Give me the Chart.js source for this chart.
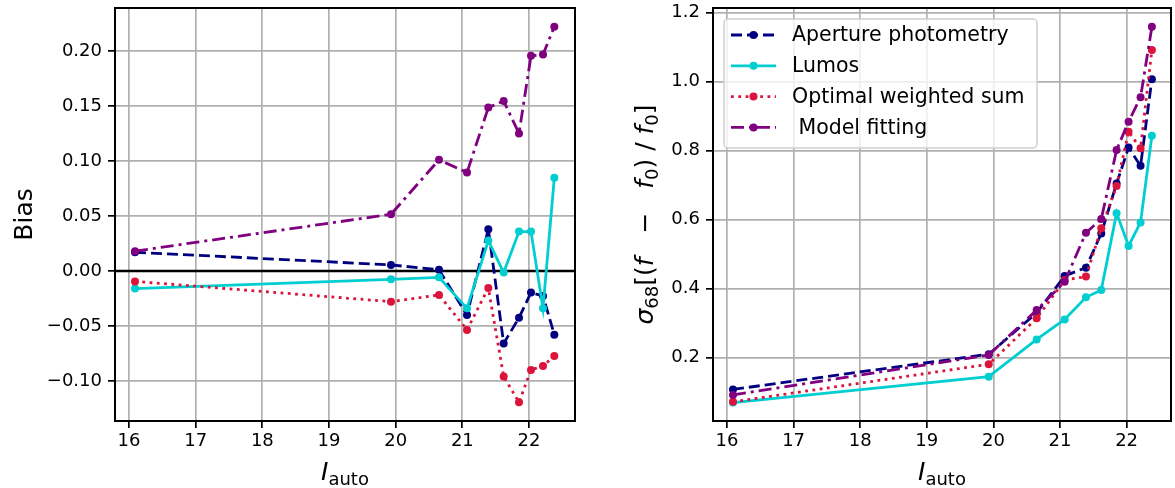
<!DOCTYPE html>
<html>
<head>
<meta charset="utf-8">
<script src="https://cdn.jsdelivr.net/npm/chart.js@4"></script>
<style>
    body { margin: 0; background: #fff; }
    .panel { position: absolute; top: 0; height: 488px; }
    #leftBox { left: 0; width: 590px; }
    #rightBox { left: 600px; width: 575px; }
</style>
</head>
<body>
<div class="panel" id="leftBox"><canvas id="biasChart"></canvas></div>
<div class="panel" id="rightBox"><canvas id="scatterChart"></canvas></div>
<script>
// magnitude bins (I_auto)
var magnitudes = [16.09, 19.93, 20.65, 21.07, 21.39, 21.62, 21.85, 22.03, 22.21, 22.38];

// left panel: bias
var biasAperture = [0.017, 0.0055, 0.001, -0.040, 0.038, -0.066, -0.0425, -0.0197, -0.0227, -0.058];
var biasLumos = [-0.016, -0.0076, -0.0058, -0.034, 0.0276, -0.0015, 0.0358, 0.0358, -0.034, 0.0848];
var biasOptimal = [-0.0095, -0.0279, -0.0218, -0.0536, -0.0155, -0.096, -0.1194, -0.090, -0.0864, -0.0773];
var biasModel = [0.018, 0.0515, 0.101, 0.0894, 0.1485, 0.1545, 0.125, 0.1955, 0.1967, 0.222];

// right panel: sigma_68 scatter
var sigAperture = [0.108, 0.21, 0.33, 0.437, 0.461, 0.56, 0.705, 0.809, 0.756, 1.007];
var sigLumos = [0.07, 0.145, 0.253, 0.311, 0.375, 0.396, 0.619, 0.524, 0.592, 0.843];
var sigOptimal = [0.072, 0.181, 0.314, 0.425, 0.435, 0.575, 0.698, 0.855, 0.807, 1.092];
var sigModel = [0.092, 0.208, 0.338, 0.42, 0.562, 0.602, 0.802, 0.884, 0.955, 1.159];

var seriesNames = ["Aperture photometry", "Lumos", "Optimal weighted sum", " Model fitting"];

// tick labels
var xTicks = [16, 17, 18, 19, 20, 21, 22];
var biasTicks = [-0.10, -0.05, 0.00, 0.05, 0.10, 0.15, 0.20];
var sigTicks = [0.2, 0.4, 0.6, 0.8, 1.0, 1.2];

document.addEventListener("DOMContentLoaded", function () {
    var FONT = "'DejaVu Sans', sans-serif";
    var colors = ["#000080", "#00ced1", "#dc143c", "#800080"];
    var dashes = [[11, 5], [], [2.8, 4.5], [13, 5, 3, 5]];

    function makeDatasets(values) {
        return values.map(function (vals, i) {
            return {
                label: seriesNames[i],
                data: magnitudes.map(function (m, j) { return { x: m, y: vals[j] }; }),
                borderColor: colors[i],
                backgroundColor: colors[i],
                borderWidth: 2.8,
                borderDash: dashes[i],
                pointRadius: 4,
                pointBorderWidth: 0,
                pointBackgroundColor: colors[i],
                tension: 0,
                order: 3 - i,
            };
        });
    }

    function minusSign(s) {
        return s.replace("-", "\u2212");
    }

    // draw mixed text (italic / subscripts) along a line, centered at (cx, cy)
    function drawMath(ctx, parts, cx, cy, angle) {
        ctx.save();
        ctx.translate(cx, cy);
        ctx.rotate(angle);
        var total = 0;
        parts.forEach(function (p) {
            ctx.font = p.font;
            p.w = ctx.measureText(p.t).width;
            total += p.w;
        });
        var x = -total / 2;
        ctx.fillStyle = "#000";
        ctx.textBaseline = "alphabetic";
        ctx.textAlign = "left";
        parts.forEach(function (p) {
            ctx.font = p.font;
            ctx.fillText(p.t, x, p.dy || 0);
            x += p.w;
        });
        ctx.restore();
    }

    var big = "25px " + FONT;
    var bigIt = "italic 25px " + FONT;
    var small = "18px " + FONT;

    var xLabel = [
        { t: "I", font: bigIt },
        { t: "auto", font: small, dy: 5 },
    ];

    function framePlugin(opts) {
        return {
            id: "frame",
            beforeDatasetsDraw: function (chart) {
                if (!opts.zeroLine) return;
                var ctx = chart.ctx;
                var a = chart.chartArea;
                var y0 = chart.scales.y.getPixelForValue(0);
                ctx.save();
                ctx.strokeStyle = "#000";
                ctx.lineWidth = 2.6;
                ctx.beginPath();
                ctx.moveTo(a.left, y0);
                ctx.lineTo(a.right, y0);
                ctx.stroke();
                ctx.restore();
            },
            afterDatasetsDraw: function (chart) {
                var ctx = chart.ctx;
                var a = chart.chartArea;
                ctx.save();
                ctx.strokeStyle = "#000";
                ctx.lineWidth = 2;
                ctx.strokeRect(a.left, a.top, a.right - a.left, a.bottom - a.top);
                ctx.restore();
            },
            afterDraw: function (chart) {
                var ctx = chart.ctx;
                var a = chart.chartArea;
                drawMath(ctx, xLabel, (a.left + a.right) / 2, 480, 0);
                drawMath(ctx, opts.yLabel, opts.yLabelX, (a.top + a.bottom) / 2, -Math.PI / 2);
                if (opts.legend) drawLegend(chart);
            },
        };
    }

    function drawLegend(chart) {
        var ctx = chart.ctx;
        var bx = 124, by = 19, bw = 313, bh = 129;
        ctx.save();
        ctx.fillStyle = "rgba(255,255,255,0.8)";
        ctx.strokeStyle = "#d0d0d0";
        ctx.lineWidth = 1.5;
        ctx.beginPath();
        ctx.roundRect(bx, by, bw, bh, 4);
        ctx.fill();
        ctx.stroke();
        ctx.font = "20.5px " + FONT;
        ctx.textBaseline = "middle";
        ctx.fillStyle = "#000";
        for (var i = 0; i < 4; i++) {
            var yy = 35 + i * 30.8;
            ctx.strokeStyle = colors[i];
            ctx.lineWidth = 2.8;
            ctx.setLineDash(dashes[i]);
            ctx.beginPath();
            ctx.moveTo(131, yy);
            ctx.lineTo(176, yy);
            ctx.stroke();
            ctx.setLineDash([]);
            ctx.fillStyle = colors[i];
            ctx.beginPath();
            ctx.arc(153.5, yy, 4, 0, Math.PI * 2);
            ctx.fill();
            ctx.fillStyle = "#000";
            ctx.fillText(seriesNames[i], 192, yy + 1);
        }
        ctx.restore();
    }

    function axisCommon(tickValues, fmt) {
        return {
            type: "linear",
            afterBuildTicks: function (s) {
                s.ticks = tickValues.map(function (v) { return { value: v }; });
            },
            ticks: {
                color: "#000",
                font: { family: FONT, size: 18 },
                maxRotation: 0,
                autoSkip: false,
                callback: fmt,
            },
            grid: {
                color: "#b0b0b0",
                lineWidth: 1.7,
                tickColor: "#000",
                tickLength: 7,
                tickWidth: 1.7,
            },
            border: { color: "#000", width: 2 },
        };
    }

    function drawChart(canvasId, values, o) {
        var xScale = axisCommon(xTicks, function (v) { return String(v); });
        xScale.min = o.xMin;
        xScale.max = o.xMax;
        xScale.ticks.padding = 3;
        xScale.afterFit = function (s) {
            s.height = 67;
            s.paddingLeft = 0;
            s.paddingRight = 0;
        };

        var yScale = axisCommon(o.yTicks, function (v) {
            if (Math.abs(v) < 1e-9) v = 0;
            return minusSign(v.toFixed(o.decimals));
        });
        yScale.min = o.yMin;
        yScale.max = o.yMax;
        yScale.ticks.padding = 6;
        yScale.afterFit = function (s) {
            s.width = o.yWidth;
            s.paddingTop = 0;
            s.paddingBottom = 0;
        };

        var canvas = document.getElementById(canvasId);
        return new Chart(canvas.getContext("2d"), {
            type: "line",
            data: { datasets: makeDatasets(values) },
            options: {
                responsive: true,
                maintainAspectRatio: false,
                animation: false,
                layout: { padding: { top: 8, right: o.padRight, left: 0, bottom: 0 } },
                scales: { x: xScale, y: yScale },
                plugins: {
                    legend: { display: false },
                    tooltip: { enabled: false },
                },
            },
            plugins: [framePlugin(o)],
        });
    }

    drawChart("biasChart", [biasAperture, biasLumos, biasOptimal, biasModel], {
        xMin: 15.79, xMax: 22.69,
        yMin: -0.1364, yMax: 0.239,
        yTicks: biasTicks, decimals: 2,
        yWidth: 115, padRight: 15,
        zeroLine: true,
        yLabel: [{ t: "Bias", font: big }],
        yLabelX: 32,
        legend: false,
    });

    drawChart("scatterChart", [sigAperture, sigLumos, sigOptimal, sigModel], {
        xMin: 15.79, xMax: 22.667,
        yMin: 0.0165, yMax: 1.2136,
        yTicks: sigTicks, decimals: 1,
        yWidth: 113, padRight: 1,
        zeroLine: false,
        yLabel: [
            { t: "\u03c3", font: bigIt },
            { t: "68", font: small, dy: 5 },
            { t: "[(", font: big },
            { t: "f", font: bigIt },
            { t: "   \u2212   ", font: big },
            { t: "f", font: bigIt },
            { t: "0", font: small, dy: 5 },
            { t: ") / ", font: big },
            { t: "f", font: bigIt },
            { t: "0", font: small, dy: 5 },
            { t: "]", font: big },
        ],
        yLabelX: 53,
        legend: true,
    });
});
</script>
</body>
</html>
